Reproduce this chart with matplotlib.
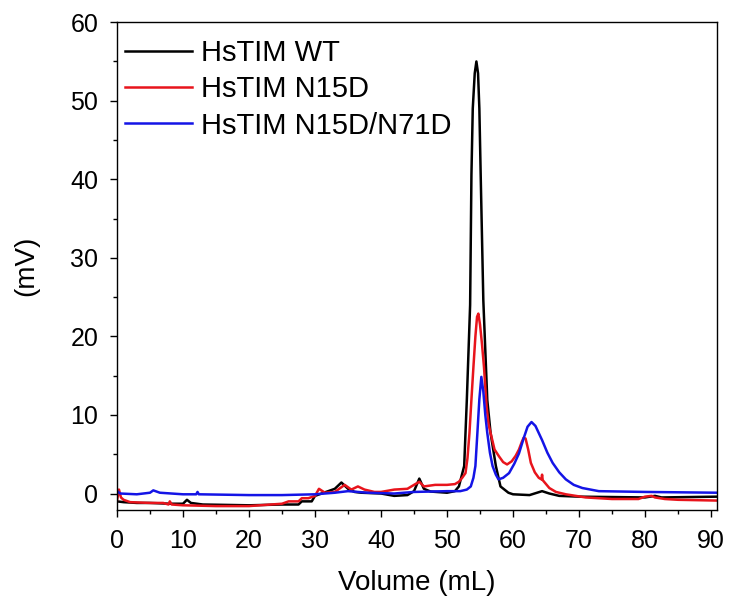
import matplotlib
matplotlib.use("Agg")
import matplotlib.pyplot as plt
from matplotlib.ticker import MultipleLocator

# values (Volume in mL, signal in mV)
wt_x = [0, 1, 3, 5, 8, 10, 10.6, 11.2, 13, 20, 25, 27.5, 28, 29.5, 30, 31, 33, 34, 35, 36, 37, 40, 42,
        44, 45, 45.8, 46.5, 47.5, 50, 51.2, 51.8, 52.6, 53.0, 53.5, 53.7, 53.9, 54.2, 54.45, 54.7, 54.9,
        55.1, 55.5, 56.1, 56.6, 57.4, 58.1, 59.3, 60, 62.5, 64.4, 65.5, 67, 70, 80, 81.5, 82.5, 91]
wt_y = [-1.0, -1.1, -1.2, -1.2, -1.3, -1.3, -0.8, -1.2, -1.4, -1.5, -1.4, -1.4, -1.0, -1.0, -0.3, 0.0,
        0.6, 1.4, 0.6, 0.2, 0.1, 0.0, -0.3, -0.2, 0.3, 1.9, 0.6, 0.25, 0.1, 0.3, 0.9, 3.5, 11.9, 24,
        40.6, 49, 53.5, 55.0, 53.5, 49, 40.6, 24.6, 11.9, 7.7, 3.5, 0.9, 0.1, -0.1, -0.2, 0.3, 0.0,
        -0.3, -0.4, -0.5, -0.3, -0.5, -0.4]

n15d_x = [0, 0.3, 0.6, 1, 2, 5, 7, 7.8, 8.0, 8.3, 10, 15, 20, 25, 26, 27.5, 28, 29, 30, 30.6, 31.5, 33,
          34.5, 35.5, 36.5, 37.5, 39, 40, 42, 44, 45.8, 46.5, 48.2, 50, 51.2, 51.8, 52.3, 52.8, 53.1,
          53.4, 53.7, 54.0, 54.3, 54.55, 54.75, 55.0, 55.3, 55.6, 56.0, 56.3, 56.6, 57.2, 57.9, 58.5,
          59.1, 59.8, 60.4, 60.9, 61.3, 61.6, 61.9, 62.3, 62.7, 63.3, 63.9, 64.3, 64.4, 64.5, 65.5,
          66.5, 68, 71, 75, 79, 80, 81, 81.5, 83, 85, 91]
n15d_y = [-0.9, 0.5, -0.5, -0.8, -1.1, -1.2, -1.2, -1.4, -1.0, -1.4, -1.5, -1.6, -1.6, -1.3, -1.0,
          -1.0, -0.6, -0.6, -0.3, 0.6, 0.1, 0.2, 1.1, 0.5, 0.9, 0.5, 0.2, 0.2, 0.5, 0.6, 1.5, 0.9, 1.1,
          1.1, 1.2, 1.5, 2.0, 2.6, 4.5, 7.7, 12, 16.1, 20, 22.5, 22.9, 21.5, 19, 16.1, 11, 8.8, 7.7, 5.6,
          4.7, 4.0, 3.7, 4.1, 4.8, 5.6, 6.5, 7.1, 7.0, 5.6, 3.9, 2.7, 2.0, 1.8, 2.4, 1.7, 0.7, 0.2,
          -0.1, -0.5, -0.7, -0.7, -0.4, -0.3, -0.5, -0.7, -0.8, -0.9]

n71d_x = [0, 0.5, 3, 5, 5.5, 6.5, 10, 12, 12.2, 12.4, 20, 25, 30, 33, 35, 38, 42, 45, 50, 52, 53.0,
          53.6, 54.0, 54.3, 54.6, 54.9, 55.2, 55.5, 55.8, 56.1, 56.5, 56.9, 57.4, 57.8, 58.5, 59.4,
          60.2, 60.9, 61.6, 62.2, 62.8, 63.4, 64.4, 65.2, 66, 67, 68, 69.2, 70.5, 73, 80, 91]
n71d_y = [0.3, 0.0, -0.1, 0.1, 0.4, 0.1, -0.1, -0.1, 0.2, -0.1, -0.2, -0.2, -0.1, 0.1, 0.3, 0.1, 0.0,
          0.2, 0.3, 0.3, 0.5, 0.9, 2.0, 3.5, 7.7, 12, 14.85, 13, 10, 7.7, 5.2, 3.5, 2.4, 1.8, 2.0, 2.6,
          3.8, 5.1, 7.0, 8.5, 9.1, 8.6, 6.8, 5.2, 3.9, 2.7, 1.8, 1.1, 0.7, 0.3, 0.2, 0.1]

plt.rcParams['font.family'] = ['Liberation Sans', 'DejaVu Sans']

fig = plt.figure(figsize=(7.33, 6.06), dpi=100)
ax = fig.add_axes([0.1596, 0.1584, 0.819, 0.805])

ax.plot(wt_x, wt_y, color='black', lw=1.8, label='HsTIM WT')
ax.plot(n15d_x, n15d_y, color='#e8141c', lw=1.8, label='HsTIM N15D')
ax.plot(n71d_x, n71d_y, color='#1414e6', lw=1.8, label='HsTIM N15D/N71D')

ax.set_xlim(0, 90.95)
ax.set_ylim(-2.1, 60)
ax.xaxis.set_major_locator(MultipleLocator(10))
ax.xaxis.set_minor_locator(MultipleLocator(5))
ax.yaxis.set_major_locator(MultipleLocator(10))
ax.yaxis.set_minor_locator(MultipleLocator(5))
ax.tick_params(which='major', direction='out', length=5, width=1, labelsize=18, pad=8.5)
ax.tick_params(which='minor', direction='out', length=3, width=1)
for s in ax.spines.values():
    s.set_linewidth(1)

ax.set_xlabel('Volume (mL)', fontsize=20, labelpad=12.5)
ax.set_ylabel('(mV)', fontsize=20, labelpad=22.5)

ax.legend(loc='upper left', bbox_to_anchor=(0.013, 0.965), frameon=False, fontsize=21,
          handlelength=2.3, handletextpad=0.3, borderpad=0, borderaxespad=0, labelspacing=0.28)

fig.savefig('out.png', dpi=100)
